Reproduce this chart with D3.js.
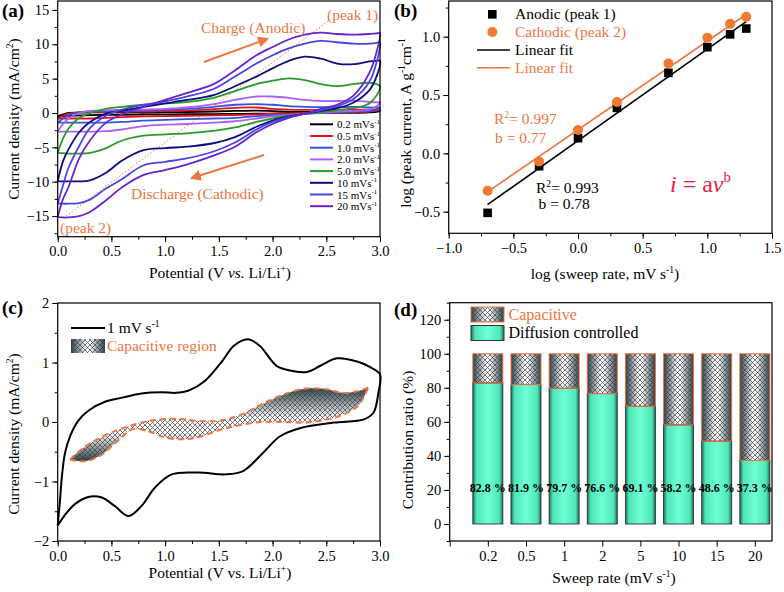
<!DOCTYPE html>
<html><head><meta charset="utf-8">
<script src="https://cdn.jsdelivr.net/npm/d3@7"></script>
<style>
body{margin:0;background:#fff;}
svg text{font-family:"Liberation Serif","Times New Roman",serif;fill:#000;}
</style></head><body>
<svg id="chart" width="784" height="592"></svg>
<script>
// ---------------- DATA ----------------
// Panel (a): CV curves at different sweep rates
const potentialGrid = [0,0.05,0.1,0.2,0.3,0.45,0.6,0.8,1.0,1.2,1.45,1.65,1.85,2.0,2.15,2.3,2.45,2.6,2.75,2.9,2.97,3.0];
const sweepLabelsA = ["0.2","0.5","1.0","2.0","5.0","10","15","20"];
const anodicBranches = [
  [-0.5,-0.2,0,0.05,0.08,0.1,0.1,0.1,0.12,0.15,0.22,0.3,0.35,0.28,0.2,0.15,0.15,0.18,0.2,0.22,0.25,0.3],
  [-0.8,-0.4,-0.1,0.1,0.15,0.15,0.2,0.2,0.3,0.35,0.55,0.75,0.8,0.6,0.5,0.45,0.45,0.5,0.5,0.5,0.5,0.5],
  [-1.4,-0.8,-0.3,0.1,0.2,0.25,0.3,0.35,0.45,0.6,0.9,1.2,1.3,1.2,1.0,0.9,0.85,0.85,0.9,0.8,0.8,0.8],
  [-2.7,-1.6,-0.8,0,0.3,0.4,0.45,0.5,0.6,0.8,1.3,1.9,2.4,2.4,2.2,1.9,1.75,1.75,1.8,1.6,1.55,1.55],
  [-5.8,-3.7,-2.3,-0.7,0.0,0.6,0.9,1.2,1.4,1.6,2.2,3.2,4.2,4.7,5.05,4.8,4.2,3.9,4.2,4.4,4.2,3.9],
  [-9.9,-7.0,-5.3,-2.8,-1.3,-0.1,0.35,0.9,1.4,1.9,2.6,3.9,5.3,6.5,7.6,8.2,7.9,7.2,7.1,7.5,7.6,7.6],
  [-13.2,-10.5,-8.0,-4.8,-2.2,-0.4,0.5,1.2,1.7,2.4,3.5,5.3,7.2,8.4,9.4,10.1,10.5,10.3,10.1,10.1,10.2,10.3],
  [-15.1,-12.5,-10.8,-6.6,-4.0,-1.4,-0.2,0.9,1.9,2.9,4.2,6.2,8.4,9.6,10.7,11.4,11.7,11.5,11.4,11.5,11.6,11.6]
];
const cathodicBranches = [
  [-0.5,-0.45,-0.4,-0.35,-0.3,-0.27,-0.25,-0.22,-0.2,-0.18,-0.15,-0.12,-0.1,-0.08,-0.05,-0.02,0,0.02,0.03,0.1,0.18,0.3],
  [-0.8,-0.8,-0.8,-0.8,-0.8,-0.7,-0.6,-0.5,-0.45,-0.4,-0.35,-0.3,-0.2,-0.1,-0.05,0,0.05,0.1,0.15,0.2,0.35,0.5],
  [-1.4,-1.4,-1.4,-1.4,-1.4,-1.4,-1.3,-1.1,-1.0,-0.9,-0.8,-0.7,-0.45,-0.3,-0.2,-0.1,0,0.1,0.2,0.3,0.5,0.8],
  [-2.7,-2.7,-2.7,-2.7,-2.7,-2.65,-2.4,-1.9,-1.7,-1.6,-1.4,-1.2,-0.8,-0.5,-0.3,-0.1,0.05,0.2,0.3,0.5,1.0,1.55],
  [-5.8,-5.85,-5.9,-5.9,-5.8,-5.1,-4.0,-3.3,-3.1,-2.95,-2.6,-2.1,-1.3,-0.8,-0.4,-0.1,0.1,0.4,0.7,1.4,2.6,3.9],
  [-9.9,-9.95,-9.95,-9.95,-9.8,-8.7,-6.9,-5.4,-5.1,-4.9,-4.4,-3.5,-2.0,-1.1,-0.5,-0.1,0.3,0.7,1.5,3.3,5.4,7.6],
  [-13.2,-13.2,-13.2,-13.1,-12.6,-11.0,-9.6,-7.6,-7.1,-6.6,-5.6,-4.3,-2.4,-1.3,-0.6,-0.1,0.4,1.0,2.0,4.5,7.5,10.3],
  [-15.1,-15.2,-15.2,-15.0,-14.4,-12.7,-10.8,-9.0,-8.3,-7.5,-6.2,-4.9,-2.8,-1.6,-0.7,-0.1,0.6,1.2,2.5,5.8,9.0,11.6]
];
const cvColors = ["#000000","#e8141c","#3355dd","#b05ef5","#2a9a2a","#0d0d80","#4a45e0","#6a22cc"];
const peakGuide = [[0.077,-15],[2.52,13.4]];

// Panel (b): log(peak current) vs log(sweep rate)
const logSweepRate = [-0.699,-0.301,0,0.301,0.699,1.0,1.176,1.301];
const anodicPeakLog = [-0.51,-0.11,0.13,0.39,0.69,0.91,1.02,1.07];
const cathodicPeakLog = [-0.32,-0.07,0.20,0.44,0.77,0.99,1.11,1.17];
const anodicFit = [[-0.7,-0.44],[1.3,1.13]];
const cathodicFit = [[-0.7,-0.33],[1.3,1.19]];

// Panel (c): CV at 1 mV/s and capacitive region
const cvUpperV = [0,0.02,0.04,0.068,0.115,0.19,0.285,0.44,0.6,0.78,0.97,1.1,1.22,1.37,1.53,1.64,1.77,1.88,2.04,2.18,2.32,2.45,2.6,2.78,2.9,3.0];
const cvUpperI = [-1.74,-1.35,-0.9,-0.52,-0.24,0.02,0.19,0.34,0.41,0.48,0.5,0.49,0.53,0.69,1.02,1.28,1.39,1.28,0.94,0.86,0.84,0.95,1.07,1.02,0.93,0.8];
const cvLowerV = [3.0,2.985,2.94,2.85,2.57,2.26,2.07,1.91,1.73,1.57,1.31,1.06,0.906,0.78,0.66,0.53,0.41,0.285,0.16,0.06,0];
const cvLowerI = [0.8,0.49,0.16,0.045,-0.01,-0.1,-0.24,-0.52,-0.82,-0.88,-0.85,-0.88,-1.1,-1.41,-1.58,-1.41,-1.27,-1.26,-1.38,-1.58,-1.74];
const capV = [0.115,0.25,0.4,0.55,0.7,0.85,1.0,1.15,1.3,1.5,1.7,1.9,2.1,2.3,2.5,2.65,2.8,2.89];
const capUpper = [-0.63,-0.42,-0.26,-0.14,-0.05,0.02,0.05,0.05,0.02,0.02,0.12,0.3,0.46,0.56,0.55,0.49,0.52,0.58];
const capLower = [-0.63,-0.66,-0.56,-0.33,-0.12,-0.16,-0.26,-0.29,-0.26,-0.14,-0.05,0.0,0.0,-0.01,0.04,0.12,0.28,0.58];

// Panel (d): contribution ratio
const sweepRatesD = ["0.2","0.5","1","2","5","10","15","20"];
const diffusionPct = [82.8,81.9,79.7,76.6,69.1,58.2,48.6,37.3];
const diffusionLabels = ["82.8 %","81.9 %","79.7 %","76.6 %","69.1 %","58.2 %","48.6 %","37.3 %"];

// ---------------- HELPERS ----------------
const svg = d3.select("#chart");
svg.append("rect").attr("width",784).attr("height",592).attr("fill","#fff");
const ORANGE = "#ee7540";
const defs = svg.append("defs");

function hatch(id){
  const p = defs.append("pattern").attr("id",id).attr("patternUnits","userSpaceOnUse").attr("width",5).attr("height",5);
  p.append("path").attr("d","M0,0 L5,5 M5,0 L0,5 M-1,4 L1,6 M4,-1 L6,1 M-1,1 L1,-1 M4,6 L6,4").attr("stroke","#3a3f42").attr("stroke-width",0.7);
}
hatch("hatchP");
function hGrad(id, stops){
  const g = defs.append("linearGradient").attr("id",id).attr("x1",0).attr("x2",1).attr("y1",0).attr("y2",0);
  stops.forEach(s=>g.append("stop").attr("offset",s[0]).attr("stop-color",s[1]));
}
hGrad("capGrad",[[0,"#2e4048"],[0.45,"#ffffff"],[0.55,"#ffffff"],[1,"#2e4048"]]);
hGrad("difGrad",[[0,"#1e6e5a"],[0.12,"#4ee6b8"],[0.5,"#70ffd6"],[0.88,"#4ee6b8"],[1,"#1e6e5a"]]);
const m = defs.append("marker").attr("id","arr").attr("viewBox","0 0 10 10").attr("refX",8).attr("refY",5)
  .attr("markerWidth",5.5).attr("markerHeight",5.5).attr("orient","auto");
m.append("path").attr("d","M0,0 L10,5 L0,10 z").attr("fill",ORANGE);

function rich(sel, parts, size){
  let shift = 0;
  parts.forEach(p=>{
    const target = p.sup ? -size*0.4 : 0;
    const t = sel.append("tspan").attr("dy", target-shift).text(p.t);
    shift = target;
    if(p.sup) t.attr("font-size", size*0.62);
    if(p.it) t.attr("font-style","italic");
  });
  return sel;
}
function range(a,b,s){const r=[];for(let v=a;v<=b+1e-9;v+=s)r.push(+v.toFixed(6));return r;}

function frameAxes(x, y, o){
  const g = svg.append("g");
  const [x0,x1] = x.range(), [y0,y1] = y.range();
  g.append("g").attr("transform",`translate(0,${y0})`)
    .call(d3.axisBottom(x).tickValues(o.xMinor).tickFormat("").tickSize(3).tickSizeOuter(0));
  g.append("g").attr("transform",`translate(0,${y0})`)
    .call(d3.axisBottom(x).tickValues(o.xMajor).tickFormat(o.xFmt).tickSize(5.5).tickPadding(4).tickSizeOuter(0));
  g.append("g").attr("transform",`translate(${x0},0)`)
    .call(d3.axisLeft(y).tickValues(o.yMinor).tickFormat("").tickSize(3).tickSizeOuter(0));
  g.append("g").attr("transform",`translate(${x0},0)`)
    .call(d3.axisLeft(y).tickValues(o.yMajor).tickFormat(o.yFmt).tickSize(5.5).tickPadding(3).tickSizeOuter(0));
  g.selectAll(".domain").remove();
  g.selectAll("text").attr("font-size",14.5).attr("font-family","Liberation Serif").attr("fill","#000");
  g.selectAll("line").attr("stroke","#000").attr("stroke-width",1);
  g.append("rect").attr("x",x0).attr("y",y1).attr("width",x1-x0).attr("height",y0-y1)
    .attr("fill","none").attr("stroke","#000").attr("stroke-width",1.2);
  return g;
}
function panelLabel(txt,x,y){
  svg.append("text").attr("x",x).attr("y",y).attr("font-size",19).attr("font-weight","bold").text(txt);
}

// ---------------- PANEL (a) ----------------
{
  const x = d3.scaleLinear().domain([0,3]).range([57.7,380]);
  const y = d3.scaleLinear().domain([-18,16.3]).range([236.7,1]);
  const line = d3.line().x(d=>x(d[0])).y(d=>y(d[1])).curve(d3.curveCatmullRom.alpha(0.5));
  const g = svg.append("g");
  g.append("path").attr("d",d3.line().x(d=>x(d[0])).y(d=>y(d[1]))(peakGuide))
    .attr("stroke",ORANGE).attr("stroke-width",1).attr("stroke-dasharray","1.5,2").attr("fill","none");
  sweepLabelsA.forEach((lab,k)=>{
    const pts = potentialGrid.map((v,i)=>[v,anodicBranches[k][i]]);
    const back = potentialGrid.map((v,i)=>[v,cathodicBranches[k][i]]).reverse().slice(1);
    g.append("path").attr("d",line(pts.concat(back))).attr("fill","none")
      .attr("stroke",cvColors[k]).attr("stroke-width",1.8);
  });
  frameAxes(x,y,{xMajor:range(0,3,0.5),xMinor:range(0,3,0.25),xFmt:d3.format(".1f"),
    yMajor:range(-15,15,5),yMinor:range(-17.5,15,2.5),yFmt:d3.format("d")});
  sweepLabelsA.forEach((lab,k)=>{
    const yy = 124.3 + k*11.7;
    g.append("line").attr("x1",310).attr("x2",333).attr("y1",yy).attr("y2",yy).attr("stroke",cvColors[k]).attr("stroke-width",2);
    rich(g.append("text").attr("x",337).attr("y",yy+4).attr("font-size",11),[{t:lab+" mVs"},{t:"-1",sup:true}],11);
  });
  g.append("text").attr("x",201).attr("y",33).attr("font-size",15.5).style("fill",ORANGE).text("Charge (Anodic)");
  g.append("text").attr("x",131).attr("y",199).attr("font-size",15.5).style("fill",ORANGE).text("Discharge (Cathodic)");
  g.append("text").attr("x",327).attr("y",20).attr("font-size",15.5).style("fill",ORANGE).text("(peak 1)");
  g.append("text").attr("x",60).attr("y",233).attr("font-size",15.5).style("fill",ORANGE).text("(peak 2)");
  g.append("line").attr("x1",204).attr("y1",62).attr("x2",267).attr("y2",39).attr("stroke",ORANGE).attr("stroke-width",2).attr("marker-end","url(#arr)");
  g.append("line").attr("x1",264).attr("y1",155).attr("x2",192).attr("y2",178).attr("stroke",ORANGE).attr("stroke-width",2).attr("marker-end","url(#arr)");
  rich(g.append("text").attr("x",220).attr("y",278).attr("text-anchor","middle").attr("font-size",15.5),
    [{t:"Potential (V "},{t:"vs.",it:true},{t:" Li/Li"},{t:"+",sup:true},{t:")"}],15.5);
  rich(g.append("text").attr("transform","translate(19,119) rotate(-90)").attr("text-anchor","middle").attr("font-size",15.5),
    [{t:"Current density (mA/cm"},{t:"2",sup:true},{t:")"}],15.5);
  panelLabel("(a)",2,17);
}

// ---------------- PANEL (b) ----------------
{
  const x = d3.scaleLinear().domain([-1,1.5]).range([448.7,772]);
  const y = d3.scaleLinear().domain([-0.685,1.306]).range([233.3,1]);
  const g = svg.append("g");
  frameAxes(x,y,{xMajor:range(-1,1.5,0.5),xMinor:range(-1,1.5,0.25),xFmt:d3.format(".1f"),
    yMajor:range(-0.5,1.0,0.5),yMinor:range(-0.5,1.25,0.25),yFmt:d3.format(".1f")});
  const ln = d3.line().x(d=>x(d[0])).y(d=>y(d[1]));
  g.append("path").attr("d",ln(anodicFit)).attr("stroke","#000").attr("stroke-width",1.6).attr("fill","none");
  g.append("path").attr("d",ln(cathodicFit)).attr("stroke",ORANGE).attr("stroke-width",1.6).attr("fill","none");
  g.selectAll("rect.sq").data(logSweepRate).enter().append("rect")
    .attr("x",(d)=>x(d)-4.3).attr("y",(d,i)=>y(anodicPeakLog[i])-4.3).attr("width",8.6).attr("height",8.6).attr("fill","#000");
  g.selectAll("circle.ci").data(logSweepRate).enter().append("circle")
    .attr("cx",d=>x(d)).attr("cy",(d,i)=>y(cathodicPeakLog[i])).attr("r",5).attr("fill","#f07a30");
  g.append("rect").attr("x",488).attr("y",10).attr("width",8.6).attr("height",8.6).attr("fill","#000");
  g.append("text").attr("x",515).attr("y",19).attr("font-size",15.5).text("Anodic (peak 1)");
  g.append("circle").attr("cx",492.3).attr("cy",32).attr("r",5).attr("fill","#f07a30");
  g.append("text").attr("x",515).attr("y",37).attr("font-size",15.5).style("fill",ORANGE).text("Cathodic (peak 2)");
  g.append("line").attr("x1",477).attr("x2",510).attr("y1",50).attr("y2",50).attr("stroke","#000").attr("stroke-width",1.6);
  g.append("text").attr("x",515).attr("y",55).attr("font-size",15.5).text("Linear fit");
  g.append("line").attr("x1",477).attr("x2",510).attr("y1",67.7).attr("y2",67.7).attr("stroke",ORANGE).attr("stroke-width",1.6);
  g.append("text").attr("x",515).attr("y",73).attr("font-size",15.5).style("fill",ORANGE).text("Linear fit");
  rich(g.append("text").attr("x",494).attr("y",124).attr("font-size",15.5).style("fill",ORANGE),[{t:"R"},{t:"2",sup:true},{t:"= 0.997"}],15.5);
  g.append("text").attr("x",495).attr("y",143).attr("font-size",15.5).style("fill",ORANGE).text("b = 0.77");
  rich(g.append("text").attr("x",536).attr("y",193).attr("font-size",15.5),[{t:"R"},{t:"2",sup:true},{t:"= 0.993"}],15.5);
  g.append("text").attr("x",538.5).attr("y",209).attr("font-size",15.5).text("b = 0.78");
  rich(g.append("text").attr("x",670).attr("y",192).attr("font-size",24).style("fill","#e4253f"),
    [{t:"i",it:true},{t:" = a"},{t:"ν",it:true},{t:"b",sup:true}],24);
  rich(g.append("text").attr("x",605).attr("y",279).attr("text-anchor","middle").attr("font-size",15.5),
    [{t:"log (sweep rate, mV s"},{t:"-1",sup:true},{t:")"}],15.5);
  rich(g.append("text").attr("transform","translate(411,123) rotate(-90)").attr("text-anchor","middle").attr("font-size",15.5),
    [{t:"log (peak current, A g"},{t:"-1",sup:true},{t:"cm"},{t:"-1",sup:true}],15.5);
  panelLabel("(b)",394,17);
}

// ---------------- PANEL (c) ----------------
{
  const x = d3.scaleLinear().domain([0,3]).range([57.7,380]);
  const y = d3.scaleLinear().domain([-2,2]).range([541,303]);
  const g = svg.append("g");
  const vg = defs.append("linearGradient").attr("id","capVGrad").attr("gradientUnits","userSpaceOnUse")
    .attr("x1",0).attr("x2",0).attr("y1",y(0.58)).attr("y2",y(-0.66));
  [[0,"#2e4048"],[0.42,"#ffffff"],[0.62,"#ffffff"],[1,"#2e4048"]].forEach(s=>vg.append("stop").attr("offset",s[0]).attr("stop-color",s[1]));
  const capData = capV.map((v,i)=>({v, hi:capUpper[i], lo:capLower[i]}));
  const area = d3.area().x(d=>x(d.v)).y0(d=>y(d.lo)).y1(d=>y(d.hi)).curve(d3.curveCatmullRom.alpha(0.5));
  g.append("path").attr("d",area(capData)).attr("fill","url(#capVGrad)");
  g.append("path").attr("d",area(capData)).attr("fill","url(#hatchP)");
  const cl = d3.line().x(d=>x(d[0])).y(d=>y(d[1])).curve(d3.curveCatmullRom.alpha(0.5));
  g.append("path").attr("d",cl(capV.map((v,i)=>[v,capUpper[i]]))).attr("fill","none").attr("stroke",ORANGE).attr("stroke-width",2).attr("stroke-dasharray","6,4");
  g.append("path").attr("d",cl(capV.map((v,i)=>[v,capLower[i]]))).attr("fill","none").attr("stroke",ORANGE).attr("stroke-width",2).attr("stroke-dasharray","6,4");
  const pts = cvUpperV.map((v,i)=>[v,cvUpperI[i]]).concat(cvLowerV.map((v,i)=>[v,cvLowerI[i]]).slice(1));
  g.append("path").attr("d",cl(pts)).attr("fill","none").attr("stroke","#000").attr("stroke-width",2);
  frameAxes(x,y,{xMajor:range(0,3,0.5),xMinor:range(0,3,0.25),xFmt:d3.format(".1f"),
    yMajor:range(-2,2,1),yMinor:range(-2,2,0.5),yFmt:d3.format("d")});
  g.append("line").attr("x1",71).attr("x2",105).attr("y1",328).attr("y2",328).attr("stroke","#000").attr("stroke-width",2);
  rich(g.append("text").attr("x",107).attr("y",333).attr("font-size",15.5),[{t:"1 mV s"},{t:"-1",sup:true}],15.5);
  g.append("rect").attr("x",71).attr("y",339).attr("width",34).attr("height",14).attr("fill","url(#capGrad)");
  g.append("rect").attr("x",71).attr("y",339).attr("width",34).attr("height",14).attr("fill","url(#hatchP)");
  g.append("text").attr("x",107).attr("y",351).attr("font-size",15.5).style("fill",ORANGE).text("Capacitive region");
  rich(g.append("text").attr("x",220).attr("y",578).attr("text-anchor","middle").attr("font-size",15.5),
    [{t:"Potential (V vs. Li/Li"},{t:"+",sup:true},{t:")"}],15.5);
  rich(g.append("text").attr("transform","translate(19,434) rotate(-90)").attr("text-anchor","middle").attr("font-size",15.5),
    [{t:"Current density (mA/cm"},{t:"2",sup:true},{t:")"}],15.5);
  panelLabel("(c)",2,314);
}

// ---------------- PANEL (d) ----------------
{
  const x = d3.scaleLinear().domain([0,8.45]).range([449.7,772]);
  const y = d3.scaleLinear().domain([-10,130]).range([541,302.7]);
  const g = svg.append("g");
  const bw = 30;
  sweepRatesD.forEach((r,i)=>{
    const cx = x(i+1);
    g.append("rect").attr("x",cx-bw/2).attr("y",y(100)).attr("width",bw).attr("height",y(diffusionPct[i])-y(100)).attr("fill","url(#capGrad)");
    g.append("rect").attr("x",cx-bw/2).attr("y",y(100)).attr("width",bw).attr("height",y(diffusionPct[i])-y(100)).attr("fill","url(#hatchP)")
      .attr("stroke",ORANGE).attr("stroke-width",1);
    g.append("rect").attr("x",cx-bw/2).attr("y",y(diffusionPct[i])).attr("width",bw).attr("height",y(0)-y(diffusionPct[i]))
      .attr("fill","url(#difGrad)").attr("stroke","#333").attr("stroke-width",0.9);
    g.append("line").attr("x1",cx-bw/2).attr("x2",cx+bw/2).attr("y1",y(diffusionPct[i])).attr("y2",y(diffusionPct[i])).attr("stroke",ORANGE).attr("stroke-width",1);
    g.append("text").attr("x",cx).attr("y",y(20)+2.5).attr("text-anchor","middle").attr("font-size",12).attr("font-weight","bold").text(diffusionLabels[i]);
  });
  frameAxes(x,y,{xMajor:range(0,8,1),xMinor:[],xFmt:(d)=> d>=1 ? sweepRatesD[d-1] : "",
    yMajor:range(0,120,20),yMinor:range(-10,130,10),yFmt:d3.format("d")});
  g.append("rect").attr("x",471).attr("y",307).attr("width",33).attr("height",15).attr("fill","url(#capGrad)");
  g.append("rect").attr("x",471).attr("y",307).attr("width",33).attr("height",15).attr("fill","url(#hatchP)").attr("stroke",ORANGE).attr("stroke-width",1);
  g.append("text").attr("x",508.5).attr("y",319.5).attr("font-size",16).style("fill",ORANGE).text("Capacitive");
  g.append("rect").attr("x",471).attr("y",325.5).attr("width",33).attr("height",15).attr("fill","url(#difGrad)").attr("stroke","#333").attr("stroke-width",1);
  g.append("text").attr("x",508.5).attr("y",337.5).attr("font-size",16).text("Diffusion controlled");
  rich(g.append("text").attr("x",614).attr("y",583).attr("text-anchor","middle").attr("font-size",15.5),
    [{t:"Sweep rate (mV s"},{t:"-1",sup:true},{t:")"}],15.5);
  g.append("text").attr("transform","translate(413,440) rotate(-90)").attr("text-anchor","middle").attr("font-size",15.5).text("Contribution ratio (%)");
  panelLabel("(d)",394,316);
}
</script>
</body></html>
